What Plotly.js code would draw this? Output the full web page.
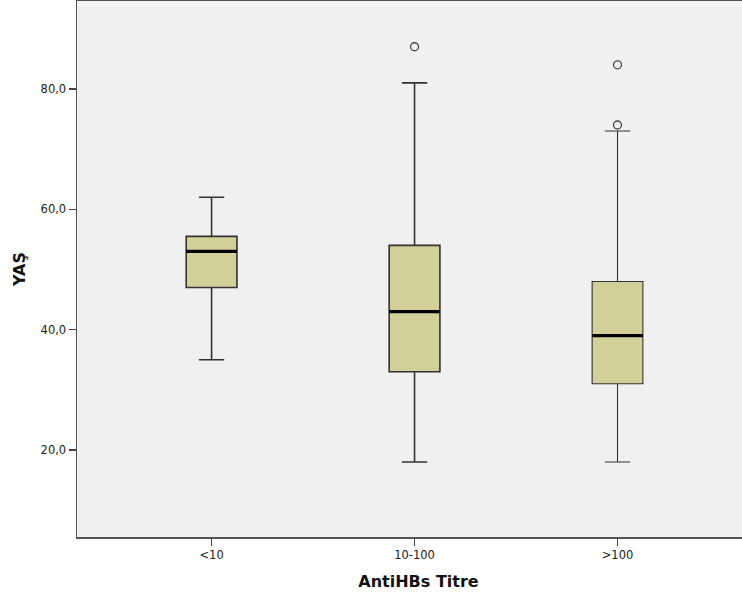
<!DOCTYPE html>
<html>
<head>
<meta charset="utf-8">
<script src="https://cdn.plot.ly/plotly-3.0.1.min.js"></script>
<style>html,body{margin:0;padding:0;overflow:hidden;background:#fff;}</style>
</head>
<body>
<div id="chart"></div>
<script>
// Data
var categories = ["<10", "10-100", ">100"];
var lowerFence = [35, 18, 18];
var q1 = [47, 33, 31];
var median = [53, 43, 39];
var q3 = [55.5, 54, 48];
var upperFence = [62, 81, 73];
var outlierCats = ["10-100", ">100", ">100"];
var outlierVals = [87, 74, 84];
var yTickVals = [20, 40, 60, 80];
var yTickText = ["20,0", "40,0", "60,0", "80,0"];

var lineWidths = [1.6, 1.6, 1.1];
var boxWidth = 0.25;

var traces = [];
for (var i = 0; i < categories.length; i++) {
  traces.push({
    type: "box",
    x: [categories[i]],
    lowerfence: [lowerFence[i]],
    q1: [q1[i]],
    median: [median[i]],
    q3: [q3[i]],
    upperfence: [upperFence[i]],
    width: boxWidth,
    whiskerwidth: 0.5,
    fillcolor: "#d3cf98",
    line: {color: "#333333", width: lineWidths[i]},
    showlegend: false,
    hoverinfo: "skip"
  });
}
traces.push({
  type: "scatter",
  mode: "markers",
  x: outlierCats,
  y: outlierVals,
  marker: {symbol: "circle-open", size: 8, color: "#444444", line: {width: 1.3}},
  showlegend: false
});

// Median emphasis lines (SPSS style thick black median)
var shapes = [];
for (var j = 0; j < categories.length; j++) {
  shapes.push({
    type: "line", xref: "x", yref: "y",
    x0: j - boxWidth / 2, x1: j + boxWidth / 2,
    y0: median[j], y1: median[j],
    line: {color: "#000000", width: 3.2}
  });
}

var titleFont = {size: 16, color: "#111", family: "DejaVu Sans, Verdana, sans-serif", weight: "bold"};
var tickFont = {size: 11.5, color: "#222", family: "DejaVu Sans, Verdana, sans-serif"};

var layout = {
  width: 760,
  height: 595,
  margin: {l: 77, r: 0, t: 1, b: 58},
  paper_bgcolor: "#ffffff",
  plot_bgcolor: "#f0f0f0",
  font: {family: "DejaVu Sans, Verdana, sans-serif", size: 11.5, color: "#222"},
  showlegend: false,
  shapes: shapes,
  xaxis: {
    type: "category",
    range: [-0.663, 2.702],
    showgrid: false,
    zeroline: false,
    showline: true,
    mirror: true,
    linecolor: "#555555",
    linewidth: 1.5,
    ticks: "outside",
    ticklen: 7,
    tickwidth: 1.5,
    tickcolor: "#444",
    tickfont: tickFont,
    automargin: false,
    title: {text: "AntiHBs Titre", font: titleFont, standoff: 14}
  },
  yaxis: {
    range: [5.55, 94.6],
    showgrid: false,
    zeroline: false,
    showline: true,
    mirror: true,
    linecolor: "#555555",
    linewidth: 1.5,
    ticks: "outside",
    ticklen: 7,
    tickwidth: 1.5,
    tickcolor: "#444",
    tickvals: yTickVals,
    ticktext: yTickText,
    tickfont: tickFont,
    automargin: false,
    title: {text: "YAŞ", font: titleFont, standoff: 11}
  }
};

Plotly.newPlot("chart", traces, layout, {displayModeBar: false, staticPlot: true});
</script>
</body>
</html>
